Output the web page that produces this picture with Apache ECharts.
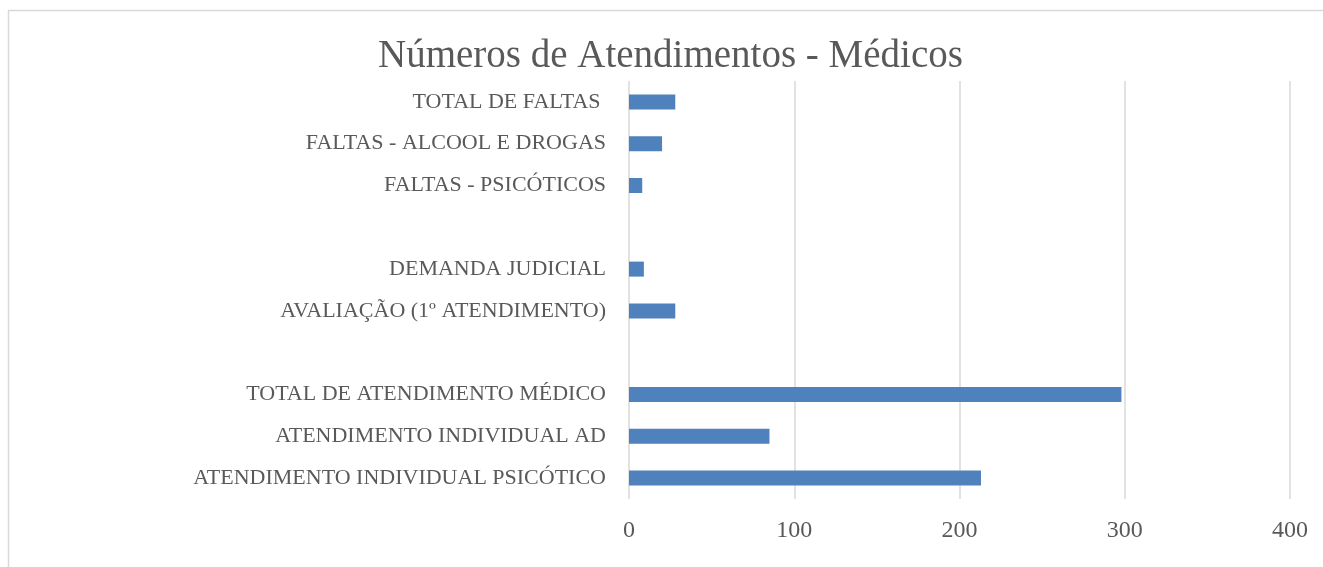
<!DOCTYPE html>
<html>
<head>
<meta charset="utf-8">
<title>Números de Atendimentos - Médicos</title>
<script src="https://cdn.jsdelivr.net/npm/echarts@6/dist/echarts.min.js"></script>
<style>
  html, body { margin: 0; padding: 0; background: #ffffff; }
  #chart { width: 1323px; height: 567px; }
</style>
</head>
<body>
<div id="chart"></div>
<script>
// Categories listed bottom to top; blank entries leave empty rows between groups
const categories = [
  'ATENDIMENTO INDIVIDUAL PSICÓTICO',
  'ATENDIMENTO INDIVIDUAL AD',
  'TOTAL DE ATENDIMENTO MÉDICO',
  ' ',
  'AVALIAÇÃO (1º ATENDIMENTO)',
  'DEMANDA JUDICIAL',
  '  ',
  'FALTAS - PSICÓTICOS',
  'FALTAS - ALCOOL E DROGAS',
  'TOTAL DE FALTAS '
];
const values = [213, 85, 298, null, 28, 9, null, 8, 20, 28];
const xTicks = [0, 100, 200, 300, 400];

const serif = '"Liberation Serif", "DejaVu Serif", serif';
const chart = echarts.init(document.getElementById('chart'), null, { renderer: 'canvas' });

chart.setOption({
  backgroundColor: '#ffffff',
  animation: false,
  title: {
    text: 'Números de Atendimentos - Médicos',
    left: 378,
    top: 37,
    padding: 0,
    textStyle: { fontFamily: serif, fontSize: 39, fontWeight: 'normal', color: '#595959' }
  },
  graphic: [
    { type: 'line', shape: { x1: 8, y1: 10.5, x2: 1323, y2: 10.5 }, style: { stroke: '#d9d9d9', lineWidth: 1.5 } },
    { type: 'line', shape: { x1: 8.5, y1: 10, x2: 8.5, y2: 567 }, style: { stroke: '#d9d9d9', lineWidth: 1.5 } }
  ],
  grid: { left: 629, right: 33, top: 81, bottom: 68, containLabel: false },
  xAxis: {
    type: 'value',
    min: xTicks[0],
    max: xTicks[xTicks.length - 1],
    interval: xTicks[1] - xTicks[0],
    axisLine: { show: false },
    axisTick: { show: false },
    splitLine: { show: true, lineStyle: { color: '#d9d9d9', width: 1.5 } },
    axisLabel: { margin: 20, fontFamily: serif, fontSize: 24, color: '#595959' }
  },
  yAxis: {
    type: 'category',
    data: categories,
    axisLine: { show: false },
    axisTick: { show: false },
    axisLabel: { margin: 23, fontFamily: serif, fontSize: 22, color: '#595959' }
  },
  series: [{
    type: 'bar',
    data: values,
    barWidth: 15,
    itemStyle: { color: '#4f81bd' }
  }]
});
</script>
</body>
</html>
